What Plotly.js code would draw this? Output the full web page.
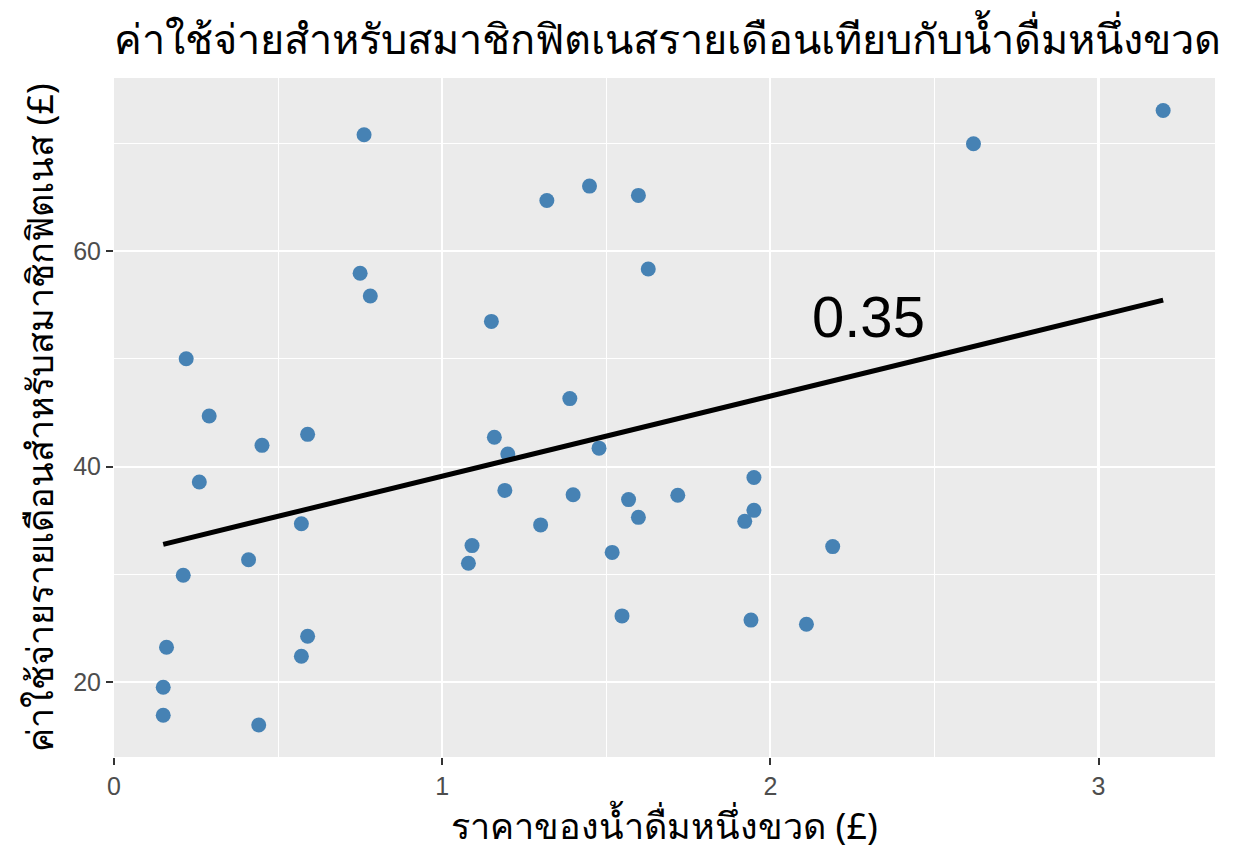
<!DOCTYPE html>
<html>
<head>
<meta charset="utf-8">
<script src="https://cdn.plot.ly/plotly-3.0.1.min.js"></script>
<style>
  html, body { margin: 0; padding: 0; background: #ffffff; }
  #chart { width: 1234px; height: 864px; }
</style>
</head>
<body>
<div id="chart"></div>
<script>
  // price of one bottle of water (£) vs monthly gym cost (£)
  const bottlePrice = [
    0.762, 2.619, 3.197, 1.449, 1.319, 1.598, 1.628, 0.750, 0.781, 1.150,
    0.220, 1.389, 0.290, 0.451, 0.590, 1.159, 1.200, 1.478, 0.260, 1.950,
    1.191, 1.399, 1.568, 1.718, 1.598, 1.950, 1.922, 0.571, 1.300, 1.091,
    1.518, 2.190, 1.080, 0.410, 0.211, 0.160, 0.590, 0.571, 1.548, 1.941,
    2.110, 0.150, 0.150, 0.441
  ];
  const gymCost = [
    70.8, 69.96, 73.05, 66.03, 64.70, 65.17, 58.34, 57.94, 55.83, 53.48,
    50.02, 46.32, 44.7, 41.98, 43.0, 42.73, 41.17, 41.72, 38.58, 39.0,
    37.8, 37.4, 36.95, 37.35, 35.3, 35.95, 34.93, 34.71, 34.6, 32.68,
    32.05, 32.59, 31.05, 31.37, 29.93, 23.25, 24.27, 22.41, 26.16, 25.77,
    25.38, 19.54, 16.94, 16.04
  ];

  // fitted line ends
  const fitX = [0.150, 3.197];
  const fitY = [32.8, 55.45];

  const corrLabel = '0.35';
  const corrPos = [2.30, 53.9];

  const xTicks = [0, 1, 2, 3];
  const yTicks = [20, 40, 60];

  const TITLE = 'ค่าใช้จ่ายสำหรับสมาชิกฟิตเนสรายเดือนเทียบกับน้ำดื่มหนึ่งขวด';
  const X_TITLE = 'ราคาของน้ำดื่มหนึ่งขวด (£)';
  const Y_TITLE = 'ค่าใช้จ่ายรายเดือนสำหรับสมาชิกฟิตเนส (£)';

  const FONT = '"Noto Sans", "Liberation Sans", sans-serif';
  const NUM_FONT = '"Liberation Sans", Arial, sans-serif';

  const points = {
    x: bottlePrice,
    y: gymCost,
    type: 'scatter',
    mode: 'markers',
    marker: { color: '#4682B4', size: 15 },
    hoverinfo: 'skip'
  };

  const fit = {
    x: fitX,
    y: fitY,
    type: 'scatter',
    mode: 'lines',
    line: { color: '#000000', width: 5 },
    hoverinfo: 'skip'
  };

  const axisCommon = {
    showgrid: true,
    gridcolor: '#ffffff',
    gridwidth: 2.2,
    zeroline: false,
    showline: false,
    ticks: 'outside',
    ticklen: 7,
    tickwidth: 2,
    tickcolor: '#333333',
    tickfont: { family: NUM_FONT, size: 25, color: '#4d4d4d' }
  };

  const layout = {
    width: 1234,
    height: 864,
    paper_bgcolor: '#ffffff',
    plot_bgcolor: '#ebebeb',
    showlegend: false,
    margin: { l: 114, r: 19, t: 78, b: 107 },
    title: {
      text: TITLE,
      font: { family: FONT, size: 41.5, color: '#000000' },
      x: 0,
      xanchor: 'left',
      xref: 'paper',
      y: 1 - 39 / 864,
      yanchor: 'middle'
    },
    xaxis: Object.assign({}, axisCommon, {
      range: [0, 3.355],
      tickmode: 'array',
      tickvals: xTicks,
      ticktext: xTicks.map(String),
      minor: { dtick: 0.5, tick0: 0, showgrid: true, gridcolor: '#ffffff', gridwidth: 1, ticks: '' },
      title: { text: X_TITLE, font: { family: FONT, size: 36, color: '#000000' }, standoff: 6 }
    }),
    yaxis: Object.assign({}, axisCommon, {
      range: [13.07, 76.06],
      tickmode: 'array',
      tickvals: yTicks,
      ticktext: yTicks.map(String),
      minor: { dtick: 10, tick0: 0, showgrid: true, gridcolor: '#ffffff', gridwidth: 1, ticks: '' },
      title: { text: Y_TITLE, font: { family: FONT, size: 36, color: '#000000' }, standoff: 8 }
    }),
    annotations: [{
      x: corrPos[0],
      y: corrPos[1],
      xref: 'x',
      yref: 'y',
      text: corrLabel,
      showarrow: false,
      font: { family: NUM_FONT, size: 58, color: '#000000' },
      xanchor: 'center',
      yanchor: 'middle'
    }]
  };

  Plotly.newPlot('chart', [points, fit], layout, { displayModeBar: false, staticPlot: true });
</script>
</body>
</html>
